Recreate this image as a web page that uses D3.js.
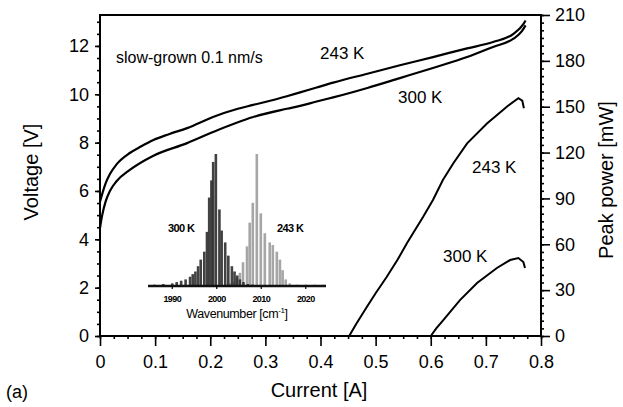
<!DOCTYPE html>
<html>
<head>
<meta charset="utf-8">
<script src="https://cdn.jsdelivr.net/npm/d3@7"></script>
<style>
  body { margin: 0; background: #fff; }
  text { font-family: "Liberation Sans", Arial, sans-serif; fill: #000; }
</style>
</head>
<body>
<script>
// voltage curves (current in A, voltage in V)
let iV243 = [0, 0.005, 0.01, 0.018, 0.03, 0.054, 0.075, 0.096, 0.125, 0.158, 0.205, 0.25, 0.278, 0.339, 0.363, 0.393, 0.423, 0.485, 0.544, 0.604, 0.666, 0.713, 0.75, 0.768, 0.772];
let v243  = [5.55, 5.95, 6.3, 6.7, 7.1, 7.57, 7.85, 8.1, 8.35, 8.6, 9.06, 9.4, 9.56, 9.92, 10.08, 10.28, 10.48, 10.85, 11.2, 11.54, 11.9, 12.16, 12.5, 12.9, 13.05];
let iV300 = [0, 0.004, 0.01, 0.018, 0.03, 0.054, 0.096, 0.158, 0.205, 0.278, 0.339, 0.363, 0.393, 0.423, 0.485, 0.544, 0.604, 0.666, 0.713, 0.75, 0.765, 0.772];
let v300  = [4.47, 5.0, 5.55, 6.0, 6.4, 6.87, 7.45, 7.98, 8.44, 9.06, 9.4, 9.52, 9.7, 9.87, 10.26, 10.67, 11.09, 11.54, 11.96, 12.3, 12.6, 12.85];

// peak power curves (current in A, power in mW)
let iP243 = [0.452, 0.465, 0.484, 0.5, 0.52, 0.54, 0.557, 0.586, 0.604, 0.622, 0.641, 0.666, 0.702, 0.738, 0.759, 0.766, 0.769];
let p243  = [0, 8, 19, 28, 38.6, 50, 60.8, 77.8, 89, 102, 113, 126, 139, 150, 155.6, 154, 149];
let iP300 = [0.6, 0.61, 0.622, 0.653, 0.684, 0.72, 0.744, 0.759, 0.768, 0.771];
let p300  = [0, 5, 10, 23.5, 34.7, 44.5, 49.7, 51, 48.4, 44.5];

// inset spectra (wavenumber in cm-1, normalized intensity)
let wn300 = [1986, 1988, 1990, 1991, 1992, 1993, 1994, 1994.6, 1995.2, 1995.8, 1996.4, 1997.2, 1997.8, 1998.3, 1998.8, 1999.2, 1999.8, 2000.6, 2001.1, 2001.9, 2002.6, 2003.4, 2004, 2004.6, 2005.2, 2006, 2007, 2008];
let in300 = [0.01, 0.015, 0.02, 0.03, 0.04, 0.05, 0.07, 0.09, 0.11, 0.15, 0.2, 0.26, 0.41, 0.67, 0.8, 0.94, 1.0, 0.58, 0.42, 0.33, 0.23, 0.15, 0.11, 0.08, 0.05, 0.03, 0.015, 0.01];
let wn243 = [2002, 2003, 2003.9, 2004.5, 2005.2, 2005.9, 2006.8, 2007.4, 2008.1, 2009.0, 2009.9, 2010.8, 2011.9, 2012.6, 2013.5, 2014.2, 2014.8, 2015.5, 2016.4, 2018, 2020, 2022, 2024];
let in243 = [0.01, 0.02, 0.03, 0.06, 0.1, 0.18, 0.3, 0.48, 0.63, 1.0, 0.55, 0.40, 0.33, 0.31, 0.26, 0.2, 0.12, 0.05, 0.02, 0.01, 0.01, 0.01, 0.01];
let insetTicks = [1990, 2000, 2010, 2020];

let margin = {top: 15, right: 82, bottom: 71, left: 100},
    width = 623 - margin.left - margin.right,
    height = 407 - margin.top - margin.bottom;

let svg = d3.select("body").append("svg")
    .attr("width", 623)
    .attr("height", 407);
let g = svg.append("g")
    .attr("transform", "translate(" + margin.left + "," + margin.top + ")");

let x = d3.scaleLinear().domain([0, 0.8]).range([0, width]);
let yV = d3.scaleLinear().domain([0, 13.28]).range([height, 0]);
let yP = d3.scaleLinear().domain([0, 210]).range([height, 0]);

// minor ticks
g.append("g").attr("class", "minor")
    .attr("transform", "translate(0," + height + ")")
    .call(d3.axisBottom(x).tickValues(d3.range(0, 0.801, 0.025)).tickSize(3).tickFormat(""));
g.append("g").attr("class", "minor")
    .call(d3.axisLeft(yV).tickValues(d3.range(0, 13.01, 0.5)).tickSize(3).tickFormat(""));
g.append("g").attr("class", "minor")
    .attr("transform", "translate(" + width + ",0)")
    .call(d3.axisRight(yP).tickValues(d3.range(0, 211, 5)).tickSize(3).tickFormat(""));

// major ticks
g.append("g").attr("class", "major")
    .attr("transform", "translate(0," + height + ")")
    .call(d3.axisBottom(x).tickValues(d3.range(0, 0.81, 0.1)).tickSize(10).tickPadding(9)
        .tickFormat(function(d) { return d === 0 ? "0" : d3.format(".1f")(d); }));
g.append("g").attr("class", "major")
    .call(d3.axisLeft(yV).tickValues([0, 2, 4, 6, 8, 10, 12]).tickSize(5).tickPadding(6));
g.append("g").attr("class", "major")
    .attr("transform", "translate(" + width + ",0)")
    .call(d3.axisRight(yP).tickValues(d3.range(0, 211, 30)).tickSize(9).tickPadding(5));

g.selectAll(".minor .domain, .major .domain").remove();
g.selectAll(".minor line, .major line").attr("stroke", "#000").attr("stroke-width", 1.6);
g.selectAll(".major text").style("font-size", "18px");

// frame
g.append("rect")
    .attr("width", width).attr("height", height)
    .attr("fill", "none").attr("stroke", "#000").attr("stroke-width", 2);

// inset spectrum
let xi = d3.scaleLinear().domain([1985, 2025]).range([150, 328]);
let yi = d3.scaleLinear().domain([0, 1]).range([286, 154]);
let inset = svg.append("g");
let s300 = wn300.map(function(d, i) { return {w: d, v: in300[i]}; });
let s243 = wn243.map(function(d, i) { return {w: d, v: in243[i]}; });

inset.selectAll(".b243").data(s243).enter().append("rect")
    .attr("x", function(d) { return xi(d.w) - 1.3; })
    .attr("width", 2.6)
    .attr("y", function(d) { return yi(d.v); })
    .attr("height", function(d) { return yi(0) - yi(d.v); })
    .attr("fill", "#9c9c9c").attr("opacity", 0.9);
inset.selectAll(".b300").data(s300).enter().append("rect")
    .attr("x", function(d) { return xi(d.w) - 1.3; })
    .attr("width", 2.6)
    .attr("y", function(d) { return yi(d.v); })
    .attr("height", function(d) { return yi(0) - yi(d.v); })
    .attr("fill", "#2e2e2e").attr("opacity", 0.9);

inset.append("line")
    .attr("x1", 148).attr("x2", 326)
    .attr("y1", yi(0)).attr("y2", yi(0))
    .attr("stroke", "#111").attr("stroke-width", 2.4);
inset.selectAll(".it").data(insetTicks).enter().append("line")
    .attr("x1", function(d) { return xi(d); }).attr("x2", function(d) { return xi(d); })
    .attr("y1", yi(0)).attr("y2", yi(0) + 3)
    .attr("stroke", "#000").attr("stroke-width", 1.2);
inset.selectAll(".itl").data(insetTicks).enter().append("text")
    .attr("x", function(d) { return xi(d); })
    .attr("y", 302)
    .attr("text-anchor", "middle")
    .style("font-size", "9px").style("font-weight", "bold").style("letter-spacing", "-0.6px")
    .text(function(d) { return d; });
inset.append("text")
    .attr("x", 237).attr("y", 318).attr("text-anchor", "middle")
    .style("font-size", "12.5px").style("letter-spacing", "-0.4px")
    .html('Wavenumber [cm<tspan dy="-5" font-size="8px">-1</tspan><tspan dy="5">]</tspan>');
inset.append("text").attr("x", 168).attr("y", 232)
    .style("font-size", "11px").style("font-weight", "bold").style("letter-spacing", "-0.6px")
    .text("300 K");
inset.append("text").attr("x", 277).attr("y", 232)
    .style("font-size", "11px").style("font-weight", "bold").style("letter-spacing", "-0.6px")
    .text("243 K");

// curves
let lineV = d3.line().curve(d3.curveMonotoneX)
    .x(function(d) { return x(d[0]); }).y(function(d) { return yV(d[1]); });
let lineP = d3.line().x(function(d) { return x(d[0]); }).y(function(d) { return yP(d[1]); });

[[iV243, v243], [iV300, v300]].forEach(function(s) {
    g.append("path")
        .datum(d3.zip(s[0], s[1]))
        .attr("d", lineV)
        .attr("fill", "none").attr("stroke", "#000").attr("stroke-width", 2.2);
});
[[iP243, p243], [iP300, p300]].forEach(function(s) {
    g.append("path")
        .datum(d3.zip(s[0], s[1]))
        .attr("d", lineP)
        .attr("fill", "none").attr("stroke", "#000").attr("stroke-width", 2);
});

// annotations
svg.append("text").attr("x", 116).attr("y", 63).style("font-size", "16px").text("slow-grown 0.1 nm/s");
svg.append("text").attr("x", 320).attr("y", 59).style("font-size", "17px").text("243 K");
svg.append("text").attr("x", 398).attr("y", 103).style("font-size", "17px").text("300 K");
svg.append("text").attr("x", 472).attr("y", 173).style("font-size", "17px").text("243 K");
svg.append("text").attr("x", 443).attr("y", 262).style("font-size", "17px").text("300 K");

// axis titles
svg.append("text")
    .attr("transform", "translate(38,172) rotate(-90)")
    .attr("text-anchor", "middle").style("font-size", "20px")
    .text("Voltage [V]");
svg.append("text")
    .attr("transform", "translate(613,180) rotate(-90)")
    .attr("text-anchor", "middle").style("font-size", "20px")
    .text("Peak power [mW]");
svg.append("text")
    .attr("x", 319).attr("y", 397)
    .attr("text-anchor", "middle").style("font-size", "20px")
    .text("Current [A]");
svg.append("text")
    .attr("x", 6).attr("y", 398).style("font-size", "18px")
    .text("(a)");
</script>
</body>
</html>
